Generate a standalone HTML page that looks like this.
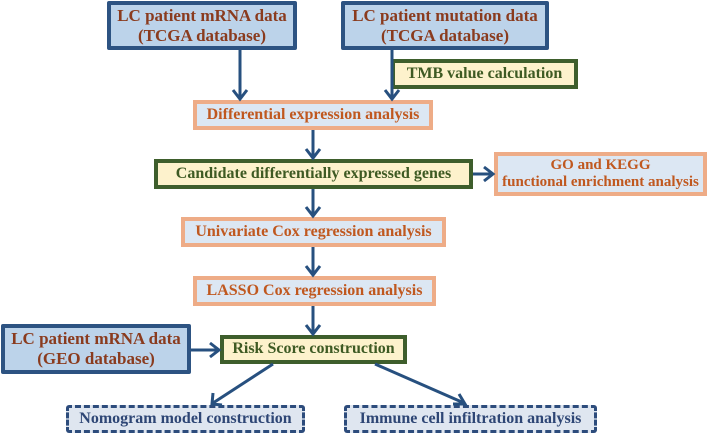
<!DOCTYPE html>
<html><head><style>
body{margin:0;width:708px;height:435px;background:#fff;position:relative;overflow:hidden;font-family:"Liberation Serif",serif;font-weight:bold}
.b{position:absolute;box-sizing:border-box;display:flex;align-items:center;justify-content:center;text-align:center;line-height:1.15}
.blue{background:#bcd3ea;border:4px solid #2d5382;color:#8a3b1e;font-size:17px;border-radius:2px}
.or{background:#dce7f3;border:4px solid #eeac87;color:#c0581f;font-size:16px}
.gr{background:#fdf2cc;border:4px solid #3e5e2c;color:#3e5a23;font-size:16px}
.ds{background:#dfe6f0;border:3px dashed #2d4c7c;color:#2e4675;font-size:16px;border-radius:3px}
</style></head><body>
<div class="b blue" style="left:107px;top:1px;width:190px;height:49px">LC patient mRNA data<br>(TCGA database)</div>
<div class="b blue" style="left:341px;top:1px;width:208px;height:49px">LC patient mutation data<br>(TCGA database)</div>
<div class="b gr" style="left:391px;top:59px;width:187px;height:30px">TMB value calculation</div>
<div class="b or" style="left:193px;top:100px;width:240px;height:30px">Differential expression analysis</div>
<div class="b gr" style="left:154px;top:159px;width:319px;height:30px">Candidate differentially expressed genes</div>
<div class="b or" style="left:494px;top:152px;width:213px;height:44px;font-size:15px">GO and KEGG<br>functional enrichment analysis</div>
<div class="b or" style="left:181px;top:217px;width:265px;height:30px">Univariate Cox regression analysis</div>
<div class="b or" style="left:193px;top:276px;width:243px;height:30px">LASSO Cox regression analysis</div>
<div class="b blue" style="left:1px;top:324px;width:190px;height:50px">LC patient mRNA data<br>(GEO database)</div>
<div class="b gr" style="left:220px;top:335px;width:187px;height:29px">Risk Score construction</div>
<div class="b ds" style="left:66px;top:405px;width:239px;height:28px">Nomogram model construction</div>
<div class="b ds" style="left:344px;top:405px;width:253px;height:28px">Immune cell infiltration analysis</div>
<svg width="708" height="435" style="position:absolute;left:0;top:0" fill="none" stroke="#27507f" stroke-width="3">
<g>
<path d="M240 50V98M233 90L240 99L247 90"/>
<path d="M392 50V98M385 90L392 99L399 90"/>
<path d="M313 130V157M306 149L313 158L320 149"/>
<path d="M473 174H492M484 167L493 174L484 181"/>
<path d="M313 189V215M306 207L313 216L320 207"/>
<path d="M313 247V274M306 266L313 275L320 266"/>
<path d="M313 306V333M306 325L313 334L320 325"/>
<path d="M191 350H218M210 343L219 350L210 357"/>
<path d="M273 364L213 403M213 393L212 404L222 405"/>
<path d="M375 364L464 403M453 404L465 404L459 394"/>
</g></svg>
</body></html>
